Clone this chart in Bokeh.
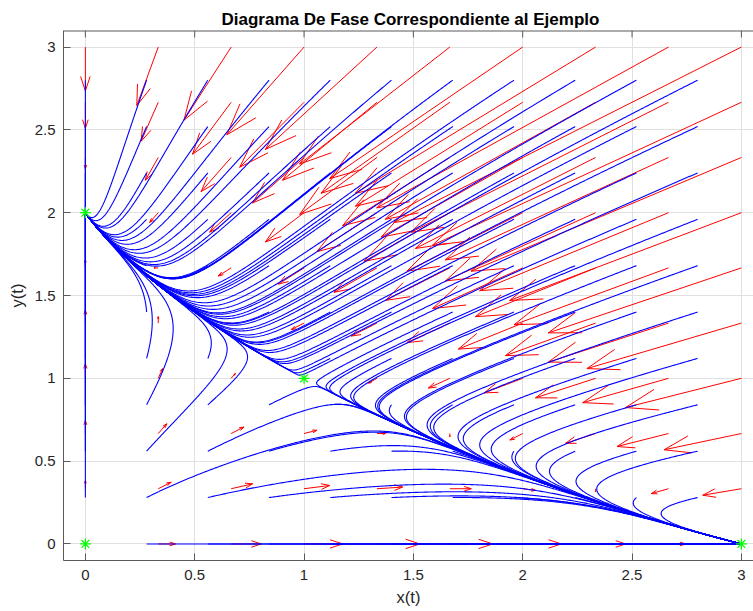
import math
from bokeh.plotting import figure
from bokeh.models import Range1d, LinearAxis, FixedTicker, Title
from bokeh.embed import file_html
from bokeh.resources import INLINE

# ---- model (competition system shown in the chart) ----
# dx/dt = x (r1 - a11 x - a12 y),  dy/dt = y (r2 - a21 x - a22 y)
growth = [3.0, 2.0]
interaction = [[1.0, 2.0], [1.0, 1.0]]

# quiver grid (0 : 1/3 : 3) and MATLAB quiver scale
quiver_x = [0.0, 1/3, 2/3, 1.0, 4/3, 5/3, 2.0, 7/3, 8/3, 3.0]
quiver_y = [0.0, 1/3, 2/3, 1.0, 4/3, 5/3, 2.0, 7/3, 8/3, 3.0]
quiver_scale = 0.0883

# streamline start points (0 : 0.28 : 2.8)
stream_x = [0.0, 0.28, 0.56, 0.84, 1.12, 1.40, 1.68, 1.96, 2.24, 2.52, 2.80]
stream_y = [0.0, 0.28, 0.56, 0.84, 1.12, 1.40, 1.68, 1.96, 2.24, 2.52, 2.80]

# equilibrium points
equil_x = [0.0, 0.0, 1.0, 3.0]
equil_y = [0.0, 2.0, 1.0, 0.0]

tick_values = [0, 0.5, 1, 1.5, 2, 2.5, 3]
tick_labels = ["0", "0.5", "1", "1.5", "2", "2.5", "3"]

title_text = "Diagrama De Fase Correspondiente al Ejemplo"
xlabel = "x(t)"
ylabel = "y(t)"

FONT = "Liberation Sans"
W, H = 753, 611
LEFT, TOP, BOTTOM = 63, 30, 51
FW = W - LEFT
FH = H - TOP - BOTTOM
SX = 218.67
X0 = -0.1
X1 = X0 + FW / SX
Y0, Y1 = -0.1, 3.1
SY = FH / (Y1 - Y0)


def field(x, y):
    u = x * (growth[0] - interaction[0][0] * x - interaction[0][1] * y)
    v = y * (growth[1] - interaction[1][0] * x - interaction[1][1] * y)
    return u, v


p = figure(width=W, height=H, output_backend="svg", toolbar_location=None,
           x_range=Range1d(X0, X1), y_range=Range1d(Y0, Y1),
           min_border_left=LEFT, min_border_right=0, min_border_top=TOP,
           min_border_bottom=BOTTOM, x_axis_location=None, y_axis_location=None)
p.outline_line_color = None
p.background_fill_color = "white"
p.border_fill_color = "white"

p.title = Title(text=title_text, align="left", offset=158, standoff=3,
                text_font=FONT, text_font_style="bold", text_font_size="17px",
                text_color="#000000")

axis_col = "#5a5a5a"
text_col = "#262626"


def style_axis(ax):
    ax.ticker = FixedTicker(ticks=tick_values)
    ax.major_label_overrides = {v: s for v, s in zip(tick_values, tick_labels)}
    ax.major_tick_in = 7
    ax.major_tick_out = 0
    ax.minor_tick_in = 0
    ax.minor_tick_out = 0
    ax.axis_line_color = axis_col
    ax.major_tick_line_color = axis_col
    ax.axis_line_width = 1
    ax.major_label_text_font = FONT
    ax.major_label_text_font_size = "15px"
    ax.major_label_text_color = text_col
    ax.axis_label_text_font = FONT
    ax.axis_label_text_font_size = "16.5px"
    ax.axis_label_text_font_style = "normal"
    ax.axis_label_text_color = text_col


xax = LinearAxis(axis_label=xlabel)
style_axis(xax)
xax.major_label_standoff = 9
xax.axis_label_standoff = 5
p.add_layout(xax, "below")

yax = LinearAxis(axis_label=ylabel)
style_axis(yax)
yax.major_label_standoff = 8
yax.axis_label_standoff = 6
p.add_layout(yax, "left")

p.xgrid.ticker = FixedTicker(ticks=tick_values)
p.ygrid.ticker = FixedTicker(ticks=tick_values)
p.xgrid.grid_line_color = "#e0e0e0"
p.ygrid.grid_line_color = "#e0e0e0"

# top box edge with inward ticks (MATLAB "box on")
n_t = len(tick_values)
p.segment(x0=[X0], y0=[Y1], x1=[X1], y1=[Y1], line_color=axis_col, line_width=2)
p.segment(x0=tick_values, y0=[Y1] * n_t, x1=tick_values, y1=[Y1 - 7.0 / SY] * n_t,
          line_color=axis_col, line_width=1)

# ---- quiver ----
shaft_xs, shaft_ys, head_xs, head_ys = [], [], [], []
alpha0, beta = 0.33, 0.33
for yq in quiver_y:
    for xq in quiver_x:
        u, v = field(xq, yq)
        u *= quiver_scale
        v *= quiver_scale
        lpx = math.hypot(u * SX, v * SY)
        if lpx < 1e-9:
            continue
        tx, ty = xq + u, yq + v
        shaft_xs.append([xq, tx])
        shaft_ys.append([yq, ty])
        a = min(alpha0, 32.0 / lpx)
        pu, pv = u * SX, v * SY
        w1x = tx - a * (pu + beta * pv) / SX
        w1y = ty - a * (pv - beta * pu) / SY
        w2x = tx - a * (pu - beta * pv) / SX
        w2y = ty - a * (pv + beta * pu) / SY
        head_xs.append([w1x, tx, w2x])
        head_ys.append([w1y, ty, w2y])

p.multi_line(shaft_xs, shaft_ys, line_color="#ff0000", line_width=1)
p.multi_line(head_xs, head_ys, line_color="#ff0000", line_width=1)


# ---- streamlines ----
def rk4(x, y, h):
    k1 = field(x, y)
    k2 = field(x + 0.5 * h * k1[0], y + 0.5 * h * k1[1])
    k3 = field(x + 0.5 * h * k2[0], y + 0.5 * h * k2[1])
    k4 = field(x + h * k3[0], y + h * k3[1])
    return (x + h / 6 * (k1[0] + 2 * k2[0] + 2 * k3[0] + k4[0]),
            y + h / 6 * (k1[1] + 2 * k2[1] + 2 * k3[1] + k4[1]))


xmin, xmax = quiver_x[0], quiver_x[-1]
ymin, ymax = quiver_y[0], quiver_y[-1]
sl_xs, sl_ys = [], []
for y0 in stream_y:
    for x0 in stream_x:
        x, y = x0, y0
        px, py = [x], [y]
        lx, ly = x, y
        for _ in range(30000):
            u, v = field(x, y)
            sp = math.hypot(u, v)
            if sp < 2e-4:
                break
            h = min(0.003 / sp, 0.05)
            nx, ny = rk4(x, y, h)
            if nx < xmin - 1e-9 or nx > xmax + 1e-9 or ny < ymin - 1e-9 or ny > ymax + 1e-9:
                break
            x, y = nx, ny
            if math.hypot((x - lx) * SX, (y - ly) * SY) > 0.8:
                px.append(x)
                py.append(y)
                lx, ly = x, y
        if px[-1] != x:
            px.append(x)
            py.append(y)
        if len(px) >= 2:
            sl_xs.append(px)
            sl_ys.append(py)

p.multi_line(sl_xs, sl_ys, line_color="#0000ff", line_width=1.1)

# ---- equilibria ----
p.scatter(equil_x, equil_y, marker="asterisk", size=11, line_color="#00ff00",
          line_width=1.2)

open("out.html", "w").write(file_html(p, INLINE))
